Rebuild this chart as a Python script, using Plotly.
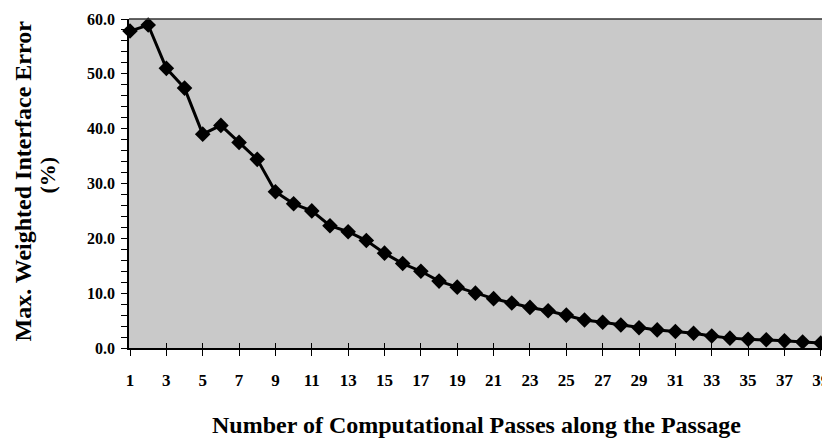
import plotly.graph_objects as go

passes = list(range(1, 40))
max_error = [57.8, 58.9, 51.0, 47.4, 39.0, 40.6, 37.5, 34.4, 28.5, 26.3,
             25.0, 22.3, 21.2, 19.6, 17.3, 15.4, 14.0, 12.2, 11.1, 10.0,
             9.0, 8.2, 7.4, 6.8, 6.0, 5.1, 4.7, 4.2, 3.7, 3.3,
             3.0, 2.7, 2.2, 1.8, 1.6, 1.5, 1.3, 1.1, 0.9]
x_tick_vals = list(range(1, 40, 2))
x_title = "Number of Computational Passes along the Passage"
y_title_1 = "Max. Weighted Interface Error"
y_title_2 = "(%)"

font_family = "Liberation Serif, Times New Roman, serif"
x_range = [0.945, 39.12]

fig = go.Figure()
fig.add_trace(go.Scatter(
    x=passes, y=max_error, mode="lines+markers",
    line=dict(color="black", width=3),
    marker=dict(symbol="diamond", size=12, color="black"),
    showlegend=False, cliponaxis=False,
))
fig.add_trace(go.Scatter(x=[None], y=[None], xaxis="x2", showlegend=False))

fig.update_layout(
    width=830, height=431,
    margin=dict(l=121, r=15, t=11, b=91, autoexpand=False),
    paper_bgcolor="white",
    plot_bgcolor="#c9c9c9",
    font=dict(family=font_family, color="black"),
    xaxis=dict(
        range=x_range, tickvals=x_tick_vals,
        ticks="outside", ticklen=6, tickwidth=1, tickcolor="black",
        ticklabelstandoff=10, ticklabeloverflow="allow",
        showline=True, linecolor="black", linewidth=1.5,
        showgrid=False, zeroline=False, automargin=False,
        tickfont=dict(size=17, family=font_family, weight="bold"),
    ),
    xaxis2=dict(
        overlaying="x", range=x_range, tickvals=x_tick_vals,
        ticks="inside", ticklen=5, tickcolor="black", showticklabels=False,
        showgrid=False, zeroline=False, side="bottom", automargin=False,
    ),
    yaxis=dict(
        range=[0, 60], dtick=10, tickformat=".1f",
        ticks="outside", ticklen=6, tickcolor="black",
        ticklabelstandoff=3,
        minor=dict(dtick=2, ticks="outside", ticklen=6, tickcolor="black"),
        showline=True, linecolor="black", linewidth=1.5,
        showgrid=False, zeroline=False, automargin=False,
        tickfont=dict(size=16, family=font_family, weight="bold"),
    ),
    shapes=[
        dict(type="line", xref="paper", yref="paper", x0=0, x1=1, y0=1, y1=1,
             line=dict(color="#333333", width=1.5)),
        dict(type="line", xref="paper", yref="paper", x0=1, x1=1, y0=0, y1=1,
             line=dict(color="#888888", width=1)),
    ],
    annotations=[
        dict(text="<b>" + x_title + "</b>", xref="paper", yref="paper",
             x=0.5, y=0, xanchor="center", yanchor="middle", yshift=-77,
             showarrow=False, font=dict(size=24, family=font_family)),
        dict(text="<b>" + y_title_1 + "</b>", xref="paper", yref="paper",
             x=0, y=0.5, xanchor="center", yanchor="middle",
             xshift=-107, yshift=2, textangle=-90,
             showarrow=False, font=dict(size=24, family=font_family)),
        dict(text="<b>" + y_title_2 + "</b>", xref="paper", yref="paper",
             x=0, y=0.5, xanchor="center", yanchor="middle",
             xshift=-82, yshift=8, textangle=-90,
             showarrow=False, font=dict(size=22, family=font_family)),
    ],
)

fig.write_html("out.html")
